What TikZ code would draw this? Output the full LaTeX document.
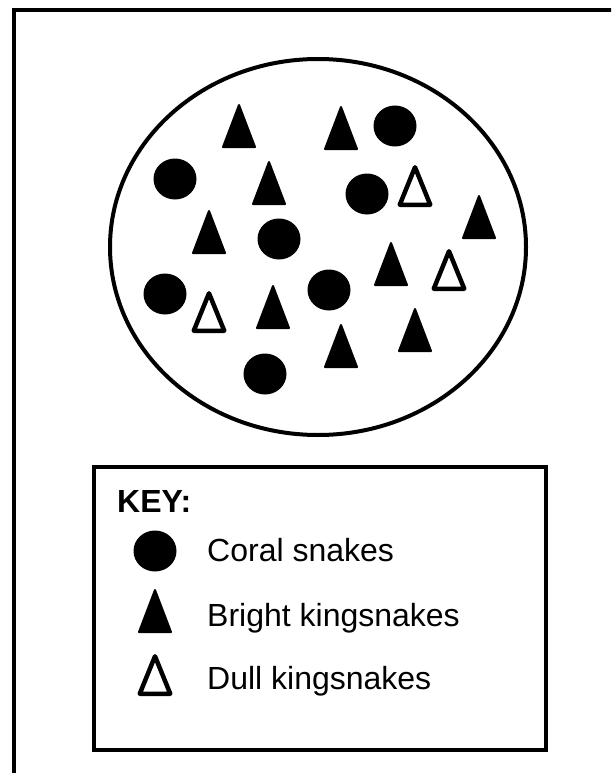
\documentclass[tikz,border=0pt]{standalone}
\usepackage{fontspec}
\setmainfont{Liberation Sans}
\usepackage{tikz}
\tikzset{
  coral/.pic={\fill (0,0) ellipse[x radius=21.5, y radius=20.5];},
  bright/.pic={\filldraw[line width=2pt, line join=round] (0,1) -- (16,43) -- (-16,43) -- cycle;},
  dull/.pic={\draw[line width=4.5pt, line join=round] (0,2.25) -- (15.25,39.75) -- (-15.25,39.75) -- cycle;},
  keytext/.style={anchor=base west, inner sep=0pt, font=\fontsize{32}{38}\selectfont}
}

\begin{document}
\begin{tikzpicture}[x=1pt, y=-1pt]

        \clip (0,0) rectangle (611,773);
        \useasboundingbox (0,0) rectangle (611,773);

        \draw[line width=4pt] (13.5,10) rectangle (640,800);

        % the population
        \draw[line width=4pt] (318,247) ellipse[x radius=208, y radius=188];

        \foreach \p in {(395,126), (175,179), (367,194), (279,239), (165,294), (329,290), (265,374)}
            \pic at \p {coral};
        \foreach \p in {(239,104), (341,106), (269,161), (209,210), (479,195), (391,242), (273,285), (341,324), (415,308)}
            \pic at \p {bright};
        \foreach \p in {(415,165), (449,249), (209,291)}
            \pic at \p {dull};

        % key
        \draw[line width=4pt] (94,466.5) rectangle (546,750);
        \node[keytext, font=\fontsize{32}{38}\selectfont\bfseries] (keyhead) at (117,512) {KEY:};

        \pic at (155,551) {coral};
        \node[keytext] (keycoral) at (207,561) {Coral snakes};
        \pic at (155,589) {bright};
        \node[keytext] (keybright) at (207,626) {Bright kingsnakes};
        \pic at (155,654) {dull};
        \node[keytext] (keydull) at (207,689) {Dull kingsnakes};
    \end{tikzpicture}
\end{document}
